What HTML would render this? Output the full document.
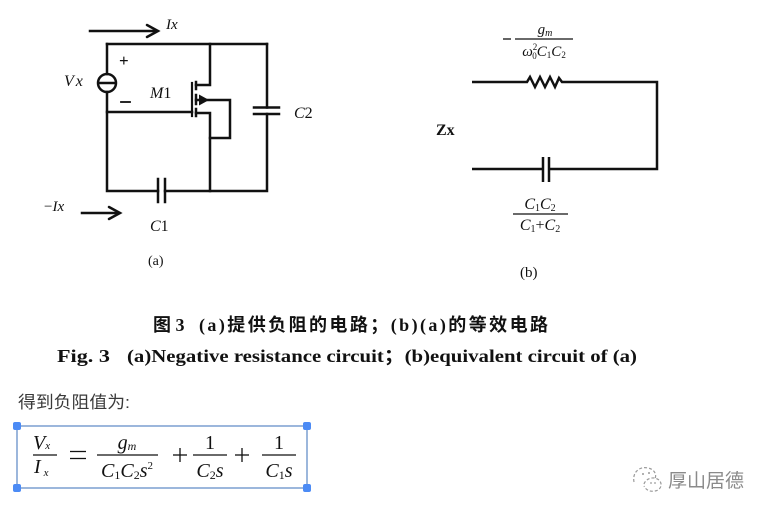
<!DOCTYPE html>
<html><head><meta charset="utf-8">
<style>
html,body{margin:0;padding:0;background:#fff;}
svg{display:block;}
.s{font-family:"Liberation Serif",serif;}
.i{font-family:"Liberation Serif",serif;font-style:italic;}
</style></head>
<body>
<svg width="768" height="512" viewBox="0 0 768 512" xmlns="http://www.w3.org/2000/svg">
<rect width="768" height="512" fill="#fff"/>
<!-- ===== Circuit (a) ===== -->
<g stroke="#111" stroke-width="2.5" fill="none" stroke-linecap="square">
  <path d="M90,31 L157,31"/>
  <path d="M147,25 L158,31 L147,37" stroke-linecap="round"/>
  <path d="M107,44 L267,44"/>
  <path d="M107,44 L107,74"/>
  <path d="M107,92 L107,191 L158,191"/>
  <path d="M165,191 L267,191 L267,114"/>
  <path d="M267,44 L267,107.5"/>
  <path d="M254,107.5 L279,107.5"/>
  <path d="M254,114 L279,114"/>
  <path d="M158,179 L158,202"/>
  <path d="M165,179 L165,202"/>
  <circle cx="107" cy="83" r="9"/>
  <path d="M99,83 L115,83"/>
  <path d="M107,112 L192,112"/>
  <path d="M192,83 L192,116" stroke-width="2.2"/>
  <path d="M196,82 L196,89"/>
  <path d="M196,95 L196,104"/>
  <path d="M196,109 L196,116"/>
  <path d="M196,85 L210,85 L210,44"/>
  <path d="M196,113 L210,113 L210,191"/>
  <path d="M196,100 L230,100 L230,138 L210,138"/>
  <path d="M82,213 L119,213"/>
  <path d="M109,207 L120,213 L109,219" stroke-linecap="round"/>
  <path d="M121,102 L130,102" stroke-width="1.8"/>
</g>
<polygon points="199,94.5 199,105.5 209,100" fill="#111"/>
<g fill="#111" font-size="16">
  <text x="166" y="29" class="i" font-size="15">Ix</text>
  <text x="64" y="86" class="i">V<tspan dx="2">x</tspan></text>
  <text x="119" y="66" class="s" font-size="17" font-weight="bold">+</text>
  <text x="150" y="98" class="i">M<tspan font-style="normal">1</tspan></text>
  <text x="294" y="118" class="i">C<tspan font-style="normal">2</tspan></text>
  <text x="44" y="211" class="i" font-size="15"><tspan font-style="normal">−</tspan>Ix</text>
  <text x="150" y="231" class="i">C<tspan font-style="normal">1</tspan></text>
  <text x="148" y="265" class="s" font-size="14">(a)</text>
</g>

<!-- ===== Circuit (b) ===== -->
<g stroke="#111" stroke-width="2.5" fill="none" stroke-linejoin="miter">
  <path d="M472,82 L527,82 L530,77 L535,87 L540,77 L545,87 L550,77 L555,87 L559,78 L562,82 L657,82 L657,169 L549,169"/>
  <path d="M543,169 L472,169"/>
  <path d="M543,157 L543,182"/>
  <path d="M549,157 L549,182"/>
</g>
<g stroke="#111" stroke-width="1.3">
  <path d="M503,39 L511,39"/>
  <path d="M515,39 L573,39"/>
  <path d="M513,214 L568,214"/>
</g>
<g fill="#111">
  <text x="436" y="135" class="s" font-size="16" font-weight="bold">Zx</text>
  <text x="545" y="34" class="i" font-size="15" text-anchor="middle">g<tspan font-size="10" dy="2">m</tspan></text>
  <text x="544" y="56" class="i" font-size="15" text-anchor="middle">ω<tspan font-size="9" dy="-6" font-style="normal">2</tspan><tspan font-size="9" dx="-5" dy="9" font-style="normal">0</tspan><tspan dy="-3">C</tspan><tspan font-size="9" dy="2" font-style="normal">1</tspan><tspan dy="-2">C</tspan><tspan font-size="9" dy="2" font-style="normal">2</tspan></text>
  <text x="540" y="209" class="i" font-size="16" text-anchor="middle">C<tspan font-size="10" dy="2" font-style="normal">1</tspan><tspan dy="-2">C</tspan><tspan font-size="10" dy="2" font-style="normal">2</tspan></text>
  <text x="540" y="230" class="i" font-size="16" text-anchor="middle">C<tspan font-size="10" dy="2" font-style="normal">1</tspan><tspan dy="-2" font-style="normal">+</tspan><tspan>C</tspan><tspan font-size="10" dy="2" font-style="normal">2</tspan></text>
  <text x="520" y="277" class="s" font-size="15">(b)</text>
</g>

<!-- ===== Captions ===== -->
<g fill="#111" font-weight="bold">
  <text x="153" y="331" font-size="18" font-family="'Liberation Serif','Noto Sans CJK SC',sans-serif">图 3</text>
  <text x="199" y="331" font-size="18" textLength="349" lengthAdjust="spacing" font-family="'Liberation Serif','Noto Sans CJK SC',sans-serif">(a)提供负阻的电路；(b)(a)的等效电路</text>
  <text x="57" y="362" font-size="18" textLength="53" lengthAdjust="spacingAndGlyphs" font-family="'Liberation Serif',serif">Fig. 3</text>
  <text x="127" y="362" font-size="18" textLength="510" lengthAdjust="spacingAndGlyphs" font-family="'Liberation Serif','Noto Sans CJK SC',serif">(a)Negative resistance circuit；(b)equivalent circuit of (a)</text>
</g>

<text x="18" y="408" font-size="17" fill="#3a3a3a" textLength="112" lengthAdjust="spacingAndGlyphs" font-family="'Liberation Sans','Noto Sans CJK SC',sans-serif">得到负阻值为:</text>

<!-- ===== Formula box ===== -->
<rect x="17" y="426" width="290" height="62" fill="none" stroke="#5b87c4" stroke-width="1.2"/>
<g fill="#4c8bf5">
  <rect x="13" y="422" width="8" height="8" rx="2"/>
  <rect x="303" y="422" width="8" height="8" rx="2"/>
  <rect x="13" y="484" width="8" height="8" rx="2"/>
  <rect x="303" y="484" width="8" height="8" rx="2"/>
</g>
<g stroke="#111" stroke-width="1.3">
  <path d="M33,455 L57,455"/>
  <path d="M70,451.5 L86,451.5"/>
  <path d="M70,458.5 L86,458.5"/>
  <path d="M97,455 L158,455"/>
  <path d="M173,455 L187,455"/>
  <path d="M180,448 L180,462"/>
  <path d="M193,455 L227,455"/>
  <path d="M235,455 L249,455"/>
  <path d="M242,448 L242,462"/>
  <path d="M262,455 L296,455"/>
</g>
<g fill="#111" font-size="20">
  <text x="33" y="449" class="i">V<tspan font-size="11" dy="0">x</tspan></text>
  <text x="34" y="473" class="i">I<tspan font-size="11" dx="3" dy="3">x</tspan></text>
  <text x="127" y="449" class="i" text-anchor="middle">g<tspan font-size="12" dy="1">m</tspan></text>
  <text x="127" y="477" class="i" text-anchor="middle">C<tspan font-size="12" dy="2" font-style="normal">1</tspan><tspan dy="-2">C</tspan><tspan font-size="12" dy="2" font-style="normal">2</tspan><tspan dy="-2">s</tspan><tspan font-size="11" dy="-8" font-style="normal">2</tspan></text>
  <text x="210" y="449" class="s" text-anchor="middle">1</text>
  <text x="210" y="477" class="i" text-anchor="middle">C<tspan font-size="12" dy="2" font-style="normal">2</tspan><tspan dy="-2">s</tspan></text>
  <text x="279" y="449" class="s" text-anchor="middle">1</text>
  <text x="279" y="477" class="i" text-anchor="middle">C<tspan font-size="12" dy="2" font-style="normal">1</tspan><tspan dy="-2">s</tspan></text>
</g>

<!-- ===== Watermark ===== -->
<g stroke="#9a9a9a" stroke-width="1.2" fill="none" stroke-dasharray="3,2">
  <path d="M634,482 C632,472 640,466 648,468 C654,469 657,474 655,479"/>
  <path d="M644,484 C646,478 654,476 659,480 C663,484 661,490 655,491 C650,492 646,490 644,486"/>
</g>
<g fill="#9a9a9a">
  <circle cx="643" cy="474" r="1"/>
  <circle cx="649" cy="473" r="1"/>
  <circle cx="651" cy="483" r="0.9"/>
  <circle cx="655" cy="483" r="0.9"/>
</g>
<text x="668" y="487" font-size="19" fill="#8a8a8a" textLength="76" lengthAdjust="spacingAndGlyphs" font-family="'Liberation Sans','Noto Sans CJK SC',sans-serif">厚山居德</text>
</svg>
</body></html>
